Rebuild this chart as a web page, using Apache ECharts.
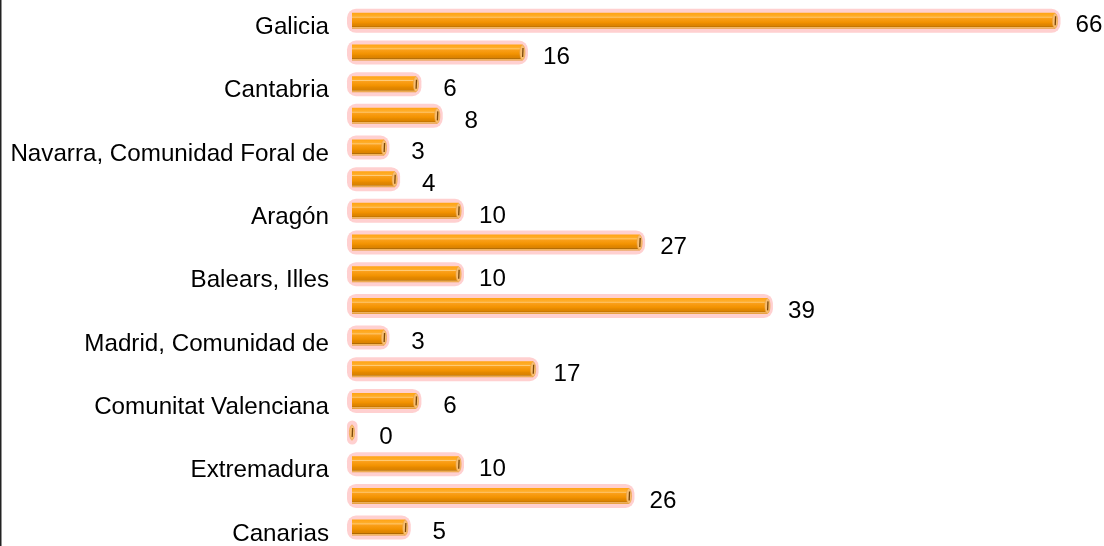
<!DOCTYPE html>
<html><head><meta charset="utf-8">
<script src="https://cdn.jsdelivr.net/npm/echarts@6/dist/echarts.min.js"></script>
<style>html,body{margin:0;padding:0;background:#fff}#c{width:1104px;height:546px}</style>
</head><body><div id="c"></div>
<script>
const categories = ["Galicia","Asturias, Principado de","Cantabria","País Vasco","Navarra, Comunidad Foral de","Rioja, La","Aragón","Cataluña","Balears, Illes","Castilla y León","Madrid, Comunidad de","Castilla - La Mancha","Comunitat Valenciana","Murcia, Región de","Extremadura","Andalucía","Canarias"];
const values = [66,16,6,8,3,4,10,27,10,39,3,17,6,0,10,26,5];

const chart = echarts.init(document.getElementById('c'), null, {renderer:'canvas'});
const FONT = '"Liberation Sans", Arial, sans-serif';
const FS = 24.2;
const bodyGrad = new echarts.graphic.LinearGradient(0,0,0,1,[
  {offset:0, color:'#FFA412'},
  {offset:0.22, color:'#FFAE2C'},
  {offset:0.27, color:'#FFCB78'},
  {offset:0.33, color:'#FBA01A'},
  {offset:0.6, color:'#F29200'},
  {offset:0.7, color:'#E48800'},
  {offset:0.84, color:'#DA8200'},
  {offset:0.87, color:'#B06800'},
  {offset:0.92, color:'#F6BC6C'},
  {offset:1, color:'#E29630'}
]);
function renderItem(params, api){
  const v = api.value(0), i = api.value(1);
  const p0 = api.coord([0, i]);
  const p1 = api.coord([v, i]);
  const x0 = p0[0], x1 = p1[0], y = p0[1];
  const h = 16, hh = 24;
  const hx = x0 - 5, hw = (x1 + 5.5) - hx;
  return {
    type:'group',
    children:[
      {type:'rect', shape:{x:hx, y:y-hh/2, width:hw, height:hh, r:Math.min(9, hw/2)},
       style:{fill:'#FFD0D0'}},
      {type:'rect', shape:{x:x0, y:y-h/2, width:Math.max(0,x1-x0), height:h},
       style:{fill:bodyGrad}},
      {type:'ellipse', shape:{cx:x1, cy:y, rx:2.6, ry:h/2-0.5},
       style:{fill:'#F8BE70', stroke:'#E8A040', lineWidth:0.6}},
      {type:'line', shape:{x1:x1+0.6, y1:y-4.5, x2:x1+0.2, y2:y+4.5},
       style:{stroke:'#7A4708', lineWidth:1.3}},
      {type:'text', style:{text:String(v), x:x1+34, y:y+5, align:'center', verticalAlign:'middle',
        font:FS + 'px ' + FONT, fill:'#000'}}
    ]
  };
}
chart.setOption({
  animation:false,
  backgroundColor:'#fff',
  grid:{left:352, right:49, top:5, bottom:0, containLabel:false},
  xAxis:{type:'value', min:0, max:66, show:false},
  yAxis:{type:'category', data:categories, inverse:true,
    axisLine:{show:false}, axisTick:{show:false}, splitLine:{show:false},
    axisLabel:{interval:1, margin:23, color:'#000',
      formatter: function(v){ return '{a|' + v + '}'; },
      rich:{a:{fontSize:FS, fontFamily:FONT, color:'#000', padding:[13,0,0,0]}}}},
  graphic:[{type:'rect', left:0, top:0, shape:{x:0,y:0,width:1.5,height:546}, style:{fill:'#222'}}],
  series:[{type:'custom', renderItem:renderItem, clip:false,
    encode:{x:0, y:1},
    data: values.map((v,i)=>[v,i])}]
});
</script></body></html>
